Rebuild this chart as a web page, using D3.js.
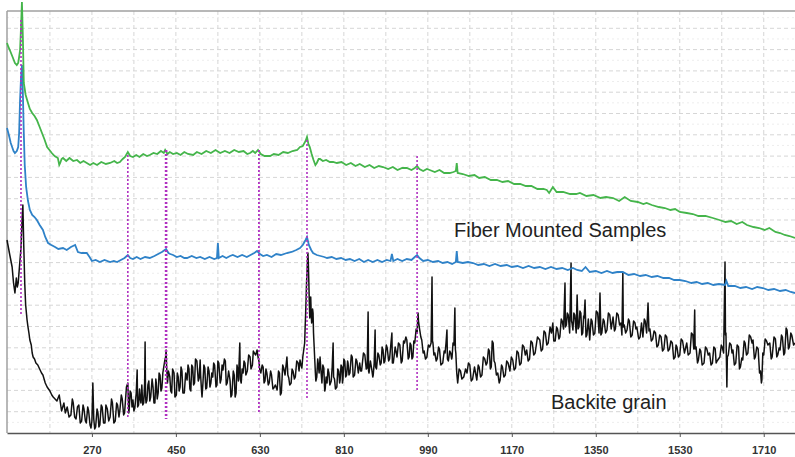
<!DOCTYPE html>
<html>
<head>
<meta charset="utf-8">
<script src="https://cdn.jsdelivr.net/npm/d3@7/dist/d3.min.js"></script>
<style>
  body { margin: 0; background: #fff; }
  svg { display: block; }
</style>
</head>
<body>
<svg id="chart" width="795" height="457"></svg>
<script>
// Raman shift (cm-1) vs intensity (a.u.)
var xTicks = [270, 450, 630, 810, 990, 1170, 1350, 1530, 1710];

var fiberTop = [ // green
  [88,390],[91,386],[94,383],[100,376],[105,370],[109,368],[112,370],[114,376],[116,383],[118,405],[120,431],
  [122,396],[124,350],[128,338],[133,330],[137,324],[142,320],[147,317],[152,313],[158,306],[163,300],[168,294],
  [174,286],[179,283],[184,280],[190,277],[197,275],[200,268],[202,270],[205,274],[208,275],[215,272],[222,275],
  [230,272],[238,273],[245,270],[252,272],[259,270],[266,268],[273,270],[281,268],[290,271],[300,269],[309,270],
  [318,272],[324,270],[330,271],[336,274],[341,276],[347,281],[352,277],[358,276],[365,278],[372,276],[380,279],
  [388,277],[394,278],[402,280],[410,279],[418,282],[424,280],[427,283],[432,279],[437,281],[444,279],[452,280],
  [460,278],[468,281],[476,279],[487,278],[495,281],[505,279],[515,282],[525,280],[535,283],[545,280],[555,282],
  [565,280],[575,283],[585,281],[595,282],[603,279],[609,280],[615,282],[620,280],[626,283],[632,279],[640,277],
  [652,277],[660,279],[670,278],[680,281],[690,280],[700,282],[710,283],[716,286],[722,287],[728,292],[731,296],
  [734,289],[737,286],[741,279],[745,273],[749,268],[752,270],[756,274],[759,274],[765,272],[772,273],[780,271],
  [787,271],[795,270],[805,271],[815,268],[825,270],[835,267],[844,269],[855,266],[865,268],[875,265],[885,267],
  [894,266],[905,264],[915,266],[925,263],[935,265],[945,265],[955,263],[962,265],[967,267],[972,264],[980,262],
  [988,264],[994,263],[1005,261],[1015,263],[1025,260],[1037,260],[1045,261],[1050,262],[1052,270],[1054,260],
  [1065,259],[1078,257],[1090,258],[1100,255],[1112,256],[1125,253],[1138,253],[1150,251],[1162,252],[1175,249],
  [1188,249],[1200,247],[1212,247],[1225,244],[1238,244],[1245,243],[1250,240],[1258,246],[1266,241],[1280,241],
  [1295,239],[1308,239],[1316,240],[1330,237],[1345,238],[1360,235],[1372,236],[1387,235],[1400,232],[1412,236],
  [1425,232],[1440,231],[1452,229],[1459,230],[1470,228],[1485,226],[1498,225],[1510,223],[1520,224],[1530,221],
  [1545,220],[1558,219],[1570,217],[1585,217],[1601,215],[1615,213],[1628,211],[1640,212],[1652,209],[1664,211],
  [1674,208],[1688,206],[1700,205],[1712,203],[1722,205],[1735,201],[1745,200],[1755,198],[1765,197],[1777,195]
];

var fiberMid = [ // blue
  [88,305],[92,298],[96,290],[99,286],[102,282],[105,280],[109,282],[112,286],[114,300],[116,333],[118,355],
  [120,368],[122,340],[124,300],[126,268],[129,246],[133,232],[137,223],[142,218],[147,216],[152,213],[158,208],
  [165,203],[170,196],[176,190],[183,188],[191,186],[198,184],[208,185],[216,183],[225,186],[234,188],[240,181],
  [248,180],[259,180],[265,176],[270,172],[278,173],[287,171],[297,173],[309,171],[317,172],[324,171],[332,173],
  [340,175],[347,178],[352,175],[358,174],[366,176],[374,174],[384,176],[394,175],[404,177],[412,179],[420,181],
  [429,184],[434,180],[438,179],[444,178],[452,176],[460,177],[468,175],[474,175],[484,177],[494,175],[502,176],
  [512,174],[522,176],[532,174],[538,175],[540,190],[542,175],[550,177],[558,175],[566,177],[572,178],[582,176],
  [592,178],[602,176],[610,178],[618,180],[624,182],[630,179],[637,177],[645,178],[655,176],[665,179],[675,178],
  [688,180],[698,181],[708,183],[716,185],[722,188],[728,193],[731,196],[735,188],[740,183],[744,180],[752,178],
  [760,177],[768,176],[774,175],[784,176],[794,174],[804,175],[814,173],[823,174],[833,172],[843,174],[853,171],
  [862,173],[872,171],[882,173],[892,171],[902,173],[910,172],[913,179],[916,172],[925,174],[935,172],[945,174],
  [955,173],[962,176],[967,178],[972,175],[980,172],[990,173],[1001,171],[1012,172],[1022,170],[1032,171],
  [1042,169],[1050,171],[1052,182],[1054,171],[1065,170],[1076,171],[1087,170],[1098,168],[1110,169],[1122,167],
  [1134,169],[1146,167],[1159,168],[1170,166],[1182,167],[1194,165],[1206,167],[1218,165],[1230,166],[1242,164],
  [1254,166],[1266,164],[1278,165],[1290,163],[1301,165],[1310,163],[1320,162],[1328,166],[1337,161],[1350,162],
  [1362,160],[1374,162],[1386,160],[1396,161],[1408,161],[1420,158],[1432,159],[1445,157],[1457,158],[1470,156],
  [1482,157],[1495,155],[1507,155],[1518,153],[1530,153],[1542,152],[1555,150],[1566,151],[1578,149],[1590,150],
  [1602,148],[1614,149],[1627,148],[1630,152],[1634,147],[1648,147],[1660,145],[1672,146],[1685,144],[1696,146],
  [1708,145],[1720,143],[1732,144],[1745,142],[1757,143],[1768,141],[1777,140]
];

var backite = [ // black
  [88,193],[90,188],[94,178],[99,166],[102,150],[105,140],[108,155],[110,146],[112,150],[115,168],[118,185],
  [120,210],[122,228],[124,186],[126,150],[128,128],[131,113],[133,106],[135,100],[137,93],[140,88],[142,80],
  [144,76],[147,74],[150,70],[154,68],[159,63],[162,60],[165,58],[170,50],[174,46],[177,44],[180,42],[184,38],
  [187,36],[191,34],[195,32],[200,38],[205,22],[210,30],[213,20],[217,26],[221,16],[225,18],[228,34],[230,30],
  [233,16],[236,14],[239,26],[242,28],[245,10],[248,12],[251,28],[253,24],[256,12],[258,10],[261,26],[263,22],
  [266,8],[268,5],[270,12],[272,50],[274,14],[276,4],[278,6],[281,24],[283,20],[285,6],[287,8],[290,28],[292,26],
  [295,10],[298,10],[300,28],[303,24],[306,12],[309,16],[312,34],[314,30],[317,10],[320,12],[323,30],[325,28],
  [328,16],[330,23],[333,38],[335,34],[338,18],[340,20],[344,46],[347,50],[349,20],[350,24],[352,42],[354,40],
  [356,26],[358,33],[360,22],[362,25],[365,40],[367,63],[368,26],[370,28],[372,44],[373,36],[375,30],[377,48],
  [379,28],[381,30],[383,50],[384,91],[385,36],[386,30],[388,33],[390,48],[392,52],[394,32],[396,36],[399,54],
  [401,46],[403,30],[405,30],[407,54],[408,50],[410,34],[412,40],[414,60],[416,58],[418,42],[420,45],[422,60],
  [424,66],[426,72],[428,76],[429,83],[430,68],[432,50],[434,62],[437,56],[439,42],[441,40],[443,64],[446,60],
  [448,36],[451,38],[453,60],[455,56],[457,42],[459,46],[461,66],[463,62],[465,40],[468,40],[471,60],[474,53],
  [476,68],[478,64],[480,44],[482,42],[484,68],[486,66],[488,48],[490,50],[492,74],[495,72],[498,52],[500,55],
  [502,73],[503,58],[505,42],[506,36],[508,50],[510,68],[512,65],[514,44],[516,45],[519,66],[521,62],[523,46],
  [525,50],[527,60],[529,56],[531,70],[533,68],[536,46],[538,48],[540,72],[542,70],[545,50],[547,54],[549,68],
  [551,63],[554,74],[556,72],[558,48],[560,50],[563,62],[566,53],[568,36],[570,38],[573,62],[575,58],[577,36],
  [579,40],[581,68],[582,65],[584,52],[587,90],[588,54],[590,50],[592,64],[594,60],[596,72],[598,70],[600,58],
  [603,62],[606,78],[609,76],[611,64],[614,68],[616,82],[618,80],[621,78],[624,83],[626,76],[628,72],[630,62],
  [632,60],[635,68],[637,66],[639,50],[641,52],[643,64],[645,60],[648,48],[650,50],[653,62],[655,58],[658,44],
  [660,45],[663,48],[667,43],[670,62],[672,60],[674,38],[676,40],[679,68],[681,65],[684,58],[688,76],[690,58],
  [692,55],[694,48],[697,50],[699,64],[701,62],[704,54],[706,56],[709,72],[712,70],[714,62],[716,73],[718,68],
  [720,65],[722,76],[724,83],[726,90],[727,105],[728,118],[729,133],[730,150],[731,160],[732,172],[733,180],
  [734,168],[735,150],[736,130],[737,115],[738,128],[739,136],[740,120],[741,110],[743,124],[744,120],[745,100],
  [746,90],[748,70],[749,60],[750,52],[752,56],[754,74],[755,70],[757,60],[759,76],[761,62],[763,50],[765,68],
  [767,65],[769,42],[770,44],[772,56],[774,50],[776,64],[778,60],[780,48],[783,52],[785,66],[787,90],[788,56],
  [790,54],[792,44],[795,46],[797,64],[799,62],[801,50],[802,53],[804,68],[806,66],[807,50],[808,53],[810,74],
  [812,72],[814,56],[816,58],[818,72],[819,70],[821,58],[823,60],[826,78],[828,76],[830,56],[833,58],[836,74],
  [838,72],[841,60],[844,70],[846,62],[848,62],[852,80],[855,78],[858,64],[860,65],[862,121],[863,62],[864,60],
  [867,72],[870,63],[872,56],[873,58],[875,70],[877,103],[878,66],[880,64],[883,80],[885,78],[888,68],[890,70],
  [892,86],[894,83],[896,70],[898,72],[901,88],[903,85],[906,72],[908,74],[911,90],[913,100],[914,70],[916,70],
  [920,86],[924,76],[927,90],[930,88],[933,70],[935,72],[938,92],[940,90],[943,96],[945,93],[948,74],[950,76],
  [952,90],[954,88],[956,74],[958,76],[960,92],[962,90],[965,104],[967,100],[969,120],[970,112],[972,105],
  [975,96],[977,93],[980,80],[982,82],[985,74],[988,76],[991,88],[994,86],[997,90],[999,156],[1000,92],
  [1001,90],[1003,78],[1005,80],[1008,72],[1010,74],[1013,86],[1015,84],[1018,68],[1022,70],[1025,82],[1027,80],
  [1029,90],[1031,103],[1032,74],[1034,72],[1037,82],[1039,80],[1041,74],[1042,76],[1044,90],[1046,88],
  [1048,125],[1049,84],[1050,80],[1052,60],[1054,50],[1057,64],[1060,62],[1063,54],[1067,56],[1071,64],
  [1074,60],[1077,70],[1080,68],[1083,52],[1086,54],[1090,66],[1095,53],[1098,68],[1100,66],[1103,56],[1106,58],
  [1109,76],[1112,74],[1115,68],[1117,70],[1120,84],[1122,82],[1124,64],[1126,66],[1128,92],[1130,90],[1132,72],
  [1134,70],[1137,58],[1140,60],[1143,50],[1145,53],[1148,68],[1150,66],[1153,56],[1156,58],[1159,72],[1162,70],
  [1166,62],[1169,76],[1172,73],[1175,63],[1178,65],[1181,82],[1184,80],[1187,68],[1190,70],[1193,88],[1196,86],
  [1199,78],[1202,83],[1205,72],[1208,74],[1211,92],[1214,90],[1217,78],[1220,80],[1225,96],[1230,93],[1233,82],
  [1236,84],[1239,102],[1242,100],[1245,88],[1248,90],[1252,106],[1255,100],[1258,110],[1260,92],[1263,92],
  [1266,106],[1268,104],[1271,94],[1273,96],[1276,114],[1278,112],[1281,104],[1284,150],[1285,106],[1287,108],
  [1289,120],[1291,118],[1294,100],[1297,170],[1298,112],[1299,110],[1301,103],[1303,120],[1305,118],[1308,100],
  [1310,138],[1312,104],[1314,106],[1316,122],[1318,120],[1320,98],[1322,100],[1324,117],[1325,115],[1327,133],
  [1329,96],[1331,98],[1334,114],[1337,93],[1340,114],[1342,112],[1345,98],[1348,100],[1351,122],[1354,120],
  [1357,100],[1359,140],[1361,98],[1363,100],[1366,114],[1368,112],[1371,100],[1374,103],[1377,120],[1380,118],
  [1383,104],[1387,116],[1390,102],[1392,104],[1395,120],[1398,118],[1401,108],[1404,110],[1406,98],[1408,160],
  [1409,106],[1411,108],[1414,100],[1417,103],[1420,114],[1422,112],[1425,96],[1428,98],[1431,112],[1434,110],
  [1436,104],[1438,106],[1442,94],[1445,96],[1448,110],[1451,96],[1454,114],[1456,112],[1459,100],[1462,130],
  [1464,102],[1466,104],[1469,92],[1472,94],[1475,102],[1478,100],[1481,86],[1484,88],[1487,98],[1490,96],
  [1493,82],[1496,84],[1499,98],[1502,96],[1505,82],[1508,84],[1511,92],[1514,90],[1517,74],[1520,76],[1522,88],
  [1524,86],[1527,76],[1530,78],[1533,94],[1536,92],[1540,80],[1545,90],[1548,78],[1552,80],[1555,100],[1558,98],
  [1560,84],[1562,123],[1563,84],[1565,86],[1568,70],[1570,73],[1573,84],[1575,82],[1578,68],[1582,70],[1585,86],
  [1588,84],[1591,78],[1594,80],[1597,68],[1600,70],[1603,86],[1606,84],[1608,70],[1610,72],[1613,74],[1616,76],
  [1619,88],[1621,86],[1624,80],[1627,171],[1628,98],[1629,100],[1631,46],[1632,76],[1634,78],[1637,90],
  [1640,88],[1642,80],[1644,83],[1647,68],[1650,70],[1653,88],[1656,86],[1658,64],[1660,66],[1663,75],[1665,73],
  [1668,92],[1670,90],[1673,78],[1676,80],[1679,98],[1682,96],[1685,90],[1687,93],[1690,74],[1692,76],[1695,86],
  [1698,84],[1701,60],[1703,62],[1705,50],[1706,53],[1708,80],[1710,78],[1713,94],[1716,92],[1719,88],[1723,90],
  [1726,74],[1728,76],[1732,96],[1735,94],[1738,76],[1740,78],[1743,85],[1745,83],[1748,98],[1750,96],[1753,78],
  [1755,80],[1758,105],[1760,103],[1763,84],[1765,86],[1768,100],[1770,98],[1774,88],[1777,90]
];

// peak markers: shift, top and bottom intensity of the dotted line
var peakShift = [118, 347, 429, 628, 731, 967];
var peakTop    = [413, 278, 283, 283, 293, 277];
var peakBottom = [118, 15, 14, 20, 35, 41];
var peakWidth  = [1.6, 1.6, 2.6, 1.8, 1.6, 1.6];

var svg = d3.select("#chart");
var mLeft = 7, mTop = 11, mRight = 795, mBottom = 433;

var x = d3.scaleLinear().domain([88, 1777]).range([mLeft, mRight]);
var y = d3.scaleLinear().domain([0, 422]).range([mBottom, mTop]);

// grid
var grid = svg.append("g");
grid.selectAll("line.minor")
    .data(d3.range(10.65, 422, 21.3))
    .enter().append("line")
    .attr("x1", mLeft).attr("x2", mRight)
    .attr("y1", function(d) { return y(d); }).attr("y2", function(d) { return y(d); })
    .style("stroke", "#ededed").style("stroke-dasharray", "2,3");
grid.selectAll("line.h")
    .data(d3.range(21.3, 422, 21.3))
    .enter().append("line")
    .attr("x1", mLeft).attr("x2", mRight)
    .attr("y1", function(d) { return y(d); }).attr("y2", function(d) { return y(d); })
    .style("stroke", "#d6d6d6").style("stroke-dasharray", "4,3");
grid.selectAll("line.v")
    .data(d3.range(180, 1777, 90))
    .enter().append("line")
    .attr("x1", function(d) { return x(d); }).attr("x2", function(d) { return x(d); })
    .attr("y1", mTop).attr("y2", mBottom)
    .style("stroke", "#d6d6d6").style("stroke-dasharray", "4,3");

// frame
svg.append("line").attr("x1", mLeft).attr("x2", mRight).attr("y1", mTop).attr("y2", mTop)
    .style("stroke", "#a0a0a0").style("stroke-width", 1.5);
svg.append("line").attr("x1", mLeft).attr("x2", mLeft).attr("y1", mTop).attr("y2", mBottom)
    .style("stroke", "#a0a0a0").style("stroke-width", 1.5);

var line = d3.line()
    .x(function(d) { return x(d[0]); })
    .y(function(d) { return y(d[1]); });

svg.append("path").datum(backite).attr("d", line)
    .style("fill", "none").style("stroke", "#111").style("stroke-width", 1.5)
    .style("stroke-linejoin", "round");
svg.append("path").datum(fiberMid).attr("d", line)
    .style("fill", "none").style("stroke", "#2f82c8").style("stroke-width", 1.8);
svg.append("path").datum(fiberTop).attr("d", line)
    .style("fill", "none").style("stroke", "#45b54b").style("stroke-width", 1.8);

svg.selectAll("line.peak")
    .data(peakShift)
    .enter().append("line")
    .attr("x1", function(d) { return x(d); }).attr("x2", function(d) { return x(d); })
    .attr("y1", function(d, i) { return y(peakTop[i]); })
    .attr("y2", function(d, i) { return y(peakBottom[i]); })
    .style("stroke", "#b030c0")
    .style("stroke-width", function(d, i) { return peakWidth[i]; })
    .style("stroke-dasharray", "2,2");

// x axis
var axis = svg.append("g").attr("transform", "translate(0," + mBottom + ")")
    .call(d3.axisBottom(x).tickValues(xTicks).tickFormat(d3.format("d"))
        .tickSize(4).tickPadding(9).tickSizeOuter(0));
axis.select(".domain").style("stroke", "#555").style("stroke-width", 1.5);
axis.selectAll(".tick line").style("stroke", "#555");
axis.selectAll(".tick text")
    .style("font-family", "Liberation Sans, Arial, sans-serif")
    .style("font-size", "11px").style("font-weight", "bold").style("fill", "#333");

svg.append("text").attr("x", 454).attr("y", 237)
    .text("Fiber Mounted Samples")
    .style("font-family", "Liberation Sans, Arial, sans-serif")
    .style("font-size", "20px").style("fill", "#222");
svg.append("text").attr("x", 551).attr("y", 409)
    .text("Backite grain")
    .style("font-family", "Liberation Sans, Arial, sans-serif")
    .style("font-size", "20px").style("fill", "#222");
</script>
</body>
</html>
